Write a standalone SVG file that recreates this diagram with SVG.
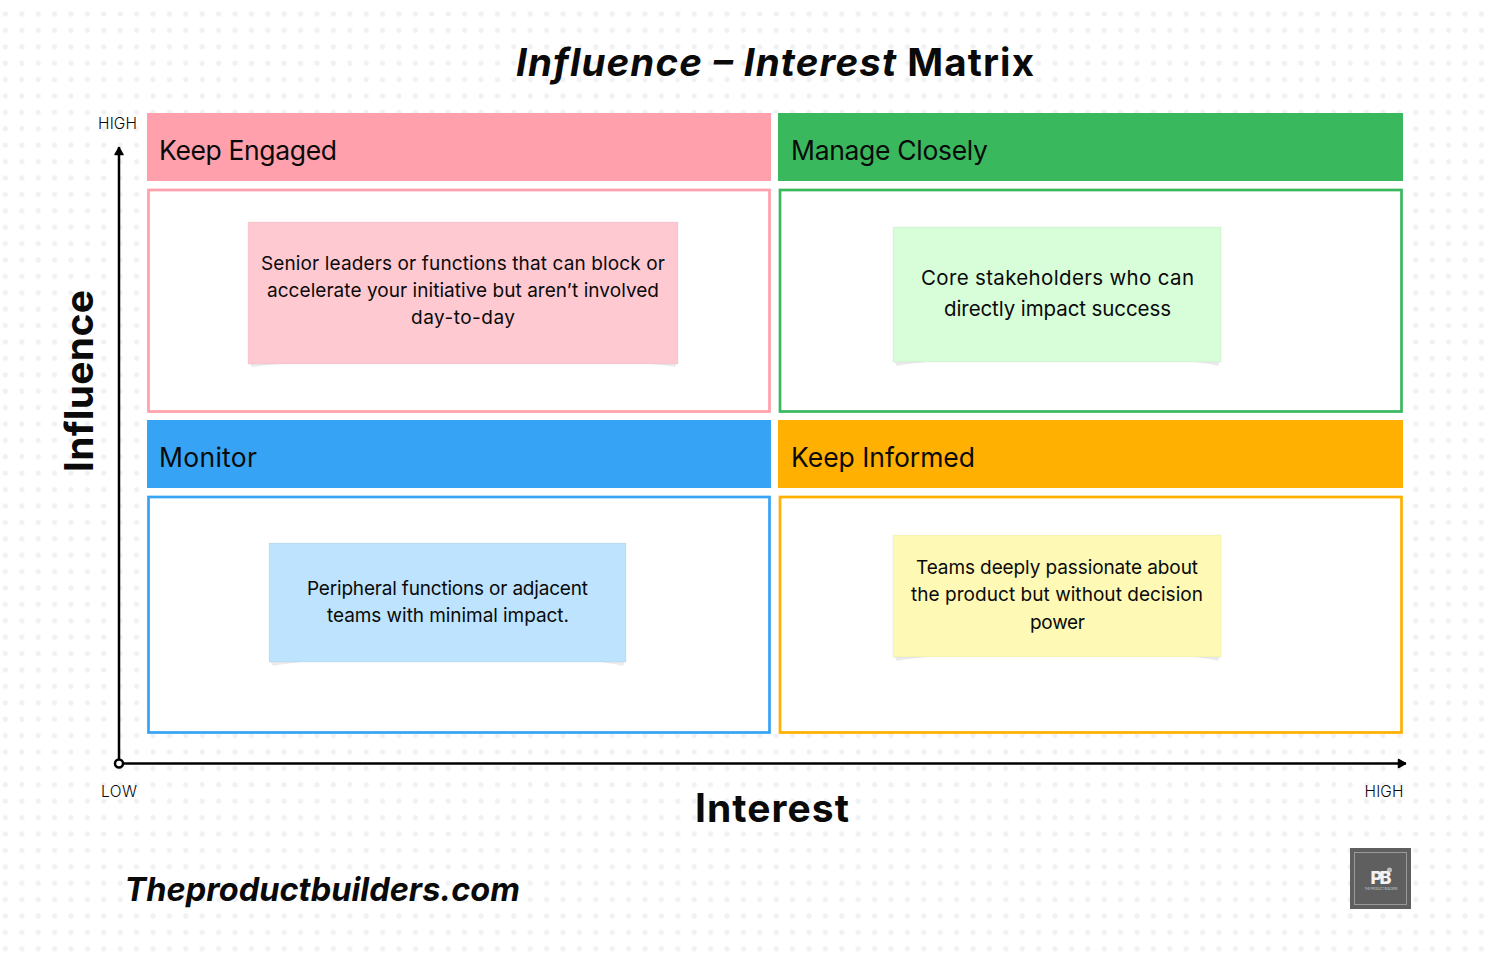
<svg xmlns="http://www.w3.org/2000/svg" width="1490" height="960" viewBox="0 0 1490 960">
<style>
text{font-family:Inter,"Liberation Sans",sans-serif;fill:#0a0a0a}
.h{font-size:26.500px}
.b{font-size:19px}
.b2{font-size:20.500px}
.c{text-anchor:middle}
.a{font-size:15.500px;font-weight:300}
.t{font-size:38.500px;font-weight:700}
.ax{font-size:39px;font-weight:700}
.ln{fill:none;stroke:#000;stroke-width:2.500}
.box{fill:#fff;stroke-width:2.700}
.sh{fill:#ebebee}
.edge{stroke:#000;stroke-opacity:.05;stroke-width:1}
</style>
<defs>
<pattern id="dots" x="-11" y="-2.400" width="16.400" height="16.400" patternUnits="userSpaceOnUse"><circle cx="16.400" cy="16.400" r="2.600" fill="#f0f1f4"/><circle cx="0" cy="16.400" r="2.600" fill="#f0f1f4"/><circle cx="16.400" cy="0" r="2.600" fill="#f0f1f4"/><circle cx="0" cy="0" r="2.600" fill="#f0f1f4"/></pattern>
<marker id="arr" markerUnits="userSpaceOnUse" markerWidth="12" markerHeight="12" refX="9" refY="6" orient="auto"><path d="M1.500 2L8.500 6L1.500 10Z" fill="#000" stroke="#000" stroke-width="1.500" stroke-linejoin="round"/></marker>
</defs>
<rect width="1490" height="960" fill="#fff"/>
<rect width="1490" height="960" fill="url(#dots)"/>
<rect x="147" y="113" width="1256" height="621" fill="#fff"/>
<text x="775" y="76" class="t c" textLength="518"><tspan font-style="italic">Influence – Interest</tspan> Matrix</text>
<g id="connectors">
<line class="ln" x1="119" y1="759" x2="119" y2="147" marker-end="url(#arr)"/>
<line class="ln" x1="123" y1="763.500" x2="1406" y2="763.500" marker-end="url(#arr)"/>
<circle cx="119" cy="763.500" r="4" fill="#fff" stroke="#000" stroke-width="2.500"/>
</g>
<g id="axis-labels">
<text x="117.500" y="129" class="a c" textLength="39">HIGH</text>
<text x="119" y="797" class="a c" textLength="36">LOW</text>
<text x="1384" y="797" class="a c" textLength="39">HIGH</text>
<text class="ax c" transform="translate(93 381) rotate(-90)" textLength="182">Influence</text>
<text x="772" y="822" class="ax c" textLength="154">Interest</text>
</g>
<g id="keep-engaged">
<rect x="147" y="113" width="624" height="68" fill="#ffa0ac"/>
<text x="159" y="159.500" class="h" textLength="178">Keep Engaged</text>
<rect class="box" x="148.500" y="190" width="621" height="221.500" stroke="#ffa0ac"/>
<path class="sh" d="M249 363H296Q265 365 252 367ZM677 363H640Q665 365 675 367Z"/>
<rect class="edge" x="248" y="222" width="430" height="142" fill="#ffc9d2"/>
<text class="b c" x="463" y="270" textLength="404">Senior leaders or functions that can block or</text>
<text class="b c" x="463" y="297" textLength="392">accelerate your initiative but aren’t involved</text>
<text class="b c" x="463" y="324" textLength="104">day-to-day</text>
</g>
<g id="manage-closely">
<rect x="778" y="113" width="625" height="68" fill="#3ab85d"/>
<text x="791" y="159.500" class="h" textLength="197">Manage Closely</text>
<rect class="box" x="780" y="190" width="621.500" height="221.500" stroke="#3ab85d"/>
<path class="sh" d="M894 361H941Q910 363 897 366ZM1220 361H1183Q1208 363 1218 366Z"/>
<rect class="edge" x="893" y="227" width="328" height="135" fill="#d8fdd9"/>
<text class="b2 c" x="1057.500" y="285" textLength="273">Core stakeholders who can</text>
<text class="b2 c" x="1057.500" y="316" textLength="227">directly impact success</text>
</g>
<g id="monitor">
<rect x="147" y="420" width="624" height="68" fill="#36a3f5"/>
<text x="159" y="466.500" class="h" textLength="98">Monitor</text>
<rect class="box" x="148.500" y="497" width="621" height="235.500" stroke="#36a3f5"/>
<path class="sh" d="M270 661H317Q286 663 273 666ZM625 661H588Q613 663 623 666Z"/>
<rect class="edge" x="269" y="543" width="357" height="119" fill="#bde3ff"/>
<text class="b c" x="447.500" y="595" textLength="281">Peripheral functions or adjacent</text>
<text class="b c" x="448" y="622" textLength="242">teams with minimal impact.</text>
</g>
<g id="keep-informed">
<rect x="778" y="420" width="625" height="68" fill="#ffb000"/>
<text x="791" y="466.500" class="h" textLength="184">Keep Informed</text>
<rect class="box" x="780" y="497" width="621.500" height="235.500" stroke="#ffb000"/>
<path class="sh" d="M894 656H941Q910 658 897 661ZM1220 656H1183Q1208 658 1218 661Z"/>
<rect class="edge" x="893" y="535" width="328" height="122" fill="#fef9b5"/>
<text class="b c" x="1057" y="574" textLength="282">Teams deeply passionate about</text>
<text class="b c" x="1057" y="601" textLength="292">the product but without decision</text>
<text class="b c" x="1057.500" y="629" textLength="55">power</text>
</g>
<text x="124.500" y="901" style="font-size:32.500px;font-weight:700;font-style:italic" textLength="395.500">Theproductbuilders.com</text>
<g id="logo">
<rect x="1350" y="848" width="61" height="61" fill="#5f5f5f"/>
<rect x="1354.500" y="852.500" width="52" height="52" fill="none" stroke="#9a9a9a"/>
<circle cx="1389.500" cy="870" r="2.500" fill="#bdbdbd"/>
<text x="1381" y="884" class="c" style="font-size:18px;font-weight:800;fill:#f2f2f2" textLength="21">PB</text>
<text x="1381" y="889.500" class="c" style="font-size:3px;fill:#cccccc" textLength="33">THE PRODUCT BUILDERS</text>
</g>
</svg>
